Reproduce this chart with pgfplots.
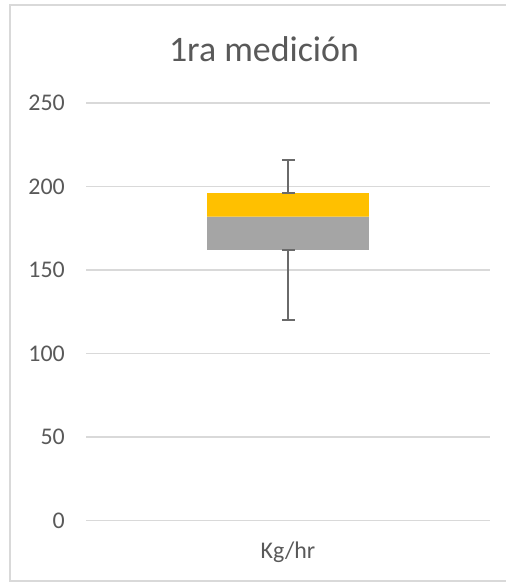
\documentclass[border=0pt]{standalone}
\usepackage{fontspec}
\setmainfont{Carlito}
\usepackage{pgfplots}
\pgfplotsset{compat=1.18}

\definecolor{boxgray}{HTML}{A5A5A5}
\definecolor{boxgold}{HTML}{FFC000}
\definecolor{gridc}{HTML}{D9D9D9}
\definecolor{txt}{HTML}{595959}
\definecolor{whisk}{HTML}{6A6A6A}

\begin{document}
\begin{tikzpicture}[x=1bp,y=1bp]
\useasboundingbox (0,0) rectangle (506,582);
% chart area frame
\draw[gridc, line width=1.2bp] (520,577) -- (10,577) -- (10,1) -- (520,1);
% chart title
\node[anchor=base, text=txt, inner sep=0pt, font=\fontsize{36}{40}\selectfont]
  at (264,520.3) {1ra medición};

\begin{axis}[
  at={(86bp,61.4bp)}, anchor=south west,
  scale only axis, width=404bp, height=417.6bp,
  xmin=-1, xmax=1, ymin=0, ymax=250,
  ytick={0,50,...,250},
  xtick={0}, xticklabels={Kg/hr},
  ymajorgrids, grid style={gridc, line width=1.2bp},
  axis line style={draw=none},
  major tick length=0pt,
  tick label style={font=\fontsize{24}{28}\selectfont, text=txt},
  /pgf/number format/assume math mode=true,
  yticklabel style={anchor=east, inner sep=0pt, xshift=-21bp},
  xticklabel style={anchor=base, inner sep=0pt, yshift=-38.4bp},
  clip=false,
]
% lower box: first quartile to median
\addplot[fill=boxgray, draw=none]
  coordinates {(-0.4,162) (0.4,162) (0.4,182) (-0.4,182) (-0.4,162)};
% upper box: median to third quartile
\addplot[fill=boxgold, draw=none]
  coordinates {(-0.4,182) (0.4,182) (0.4,196) (-0.4,196) (-0.4,182)};
% whiskers: minimum to Q1 and Q3 to maximum
\addplot[whisk, line width=1.5bp, mark=-, mark size=6.5bp,
  mark options={line width=1.5bp, solid}]
  coordinates {(0,120) (0,162)};
\addplot[whisk, line width=1.5bp, mark=-, mark size=6.5bp,
  mark options={line width=1.5bp, solid}]
  coordinates {(0,196) (0,216)};
\end{axis}
\end{tikzpicture}
\end{document}
